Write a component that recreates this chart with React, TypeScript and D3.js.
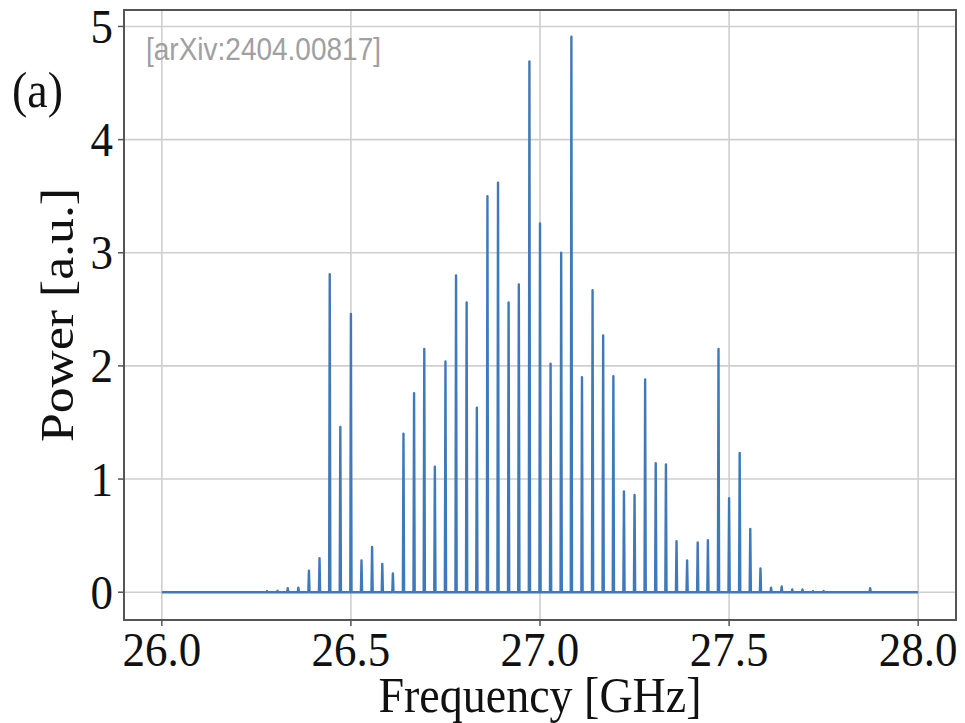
import React from "react";
import * as d3 from "d3";

// Comb line frequencies [GHz] and their power [a.u.]
const peakFreqs: number[] = [
  26.278, 26.306, 26.333, 26.361, 26.389, 26.417, 26.444, 26.472, 26.5, 26.528,
  26.556, 26.583, 26.611, 26.639, 26.667, 26.694, 26.722, 26.75, 26.778, 26.806,
  26.833, 26.861, 26.889, 26.917, 26.944, 26.972, 27.0, 27.028, 27.056, 27.083,
  27.111, 27.139, 27.167, 27.194, 27.222, 27.25, 27.278, 27.306, 27.333, 27.361,
  27.389, 27.417, 27.444, 27.472, 27.5, 27.528, 27.556, 27.583, 27.611, 27.639,
  27.667, 27.694, 27.722, 27.75, 27.873,
];
const peakPowers: number[] = [
  0.01, 0.012, 0.035, 0.04, 0.19, 0.3, 2.81, 1.46, 2.46, 0.28,
  0.4, 0.25, 0.165, 1.4, 1.76, 2.15, 1.11, 2.04, 2.8, 2.56,
  1.63, 3.5, 3.62, 2.56, 2.72, 4.69, 3.26, 2.02, 3.0, 4.91,
  1.9, 2.67, 2.27, 1.91, 0.89, 0.86, 1.88, 1.14, 1.13, 0.45,
  0.28, 0.44, 0.46, 2.15, 0.83, 1.23, 0.56, 0.21, 0.04, 0.05,
  0.025, 0.025, 0.01, 0.01, 0.035,
];
const freqRange: number[] = [26.0, 28.0];
const xTicks: number[] = [26.0, 26.5, 27.0, 27.5, 28.0];
const yTicks: number[] = [0, 1, 2, 3, 4, 5];

const W = 965;
const H = 723;
const L = 124, R = 956, T = 10, B = 620;
const SY = 1.1; // vertical stretch of the original figure
const serif = "'Liberation Serif', 'Times New Roman', serif";

export default function App() {
  const x = d3.scaleLinear().domain([25.9, 28.1]).range([L, R]);
  const y = d3.scaleLinear().domain([-0.2455, 5.1455]).range([B, T]);

  const hw = 0.0016;
  const pts: [number, number][] = [[freqRange[0], 0]];
  peakFreqs.forEach((f, i) => {
    pts.push([f - hw, 0]);
    pts.push([f, peakPowers[i]]);
    pts.push([f + hw, 0]);
  });
  pts.push([freqRange[1], 0]);
  const line = d3
    .line<[number, number]>()
    .x((d) => x(d[0]))
    .y((d) => y(d[1]));

  return (
    <svg
      width={W}
      height={H}
      style={{ position: "absolute", left: 0, top: 0, background: "#fff" }}
    >
      <rect x={0} y={0} width={W} height={H} fill="#fff" />
      {/* grid */}
      {xTicks.map((t) => (
        <line key={"gx" + t} x1={x(t)} x2={x(t)} y1={T} y2={B} stroke="#cfcfcf" strokeWidth={1.6} />
      ))}
      {yTicks.map((t) => (
        <line key={"gy" + t} x1={L} x2={R} y1={y(t)} y2={y(t)} stroke="#cfcfcf" strokeWidth={1.6} />
      ))}
      {/* data */}
      <path d={line(pts) || ""} fill="none" stroke="#3f79ba" strokeWidth={2.4} strokeLinejoin="round" />
      {/* frame */}
      <rect x={L} y={T} width={R - L} height={B - T} fill="none" stroke="#555" strokeWidth={2} />
      {/* ticks */}
      {xTicks.map((t) => (
        <g key={"tx" + t}>
          <line x1={x(t)} x2={x(t)} y1={B} y2={B + 6} stroke="#555" strokeWidth={1.5} />
          <text
            transform={`translate(${x(t)},666) scale(1,${SY})`}
            textAnchor="middle"
            fontFamily={serif}
            fontSize={45}
            fill="#111"
          >
            {t.toFixed(1)}
          </text>
        </g>
      ))}
      {yTicks.map((t) => (
        <g key={"ty" + t}>
          <line x1={L - 6} x2={L} y1={y(t)} y2={y(t)} stroke="#555" strokeWidth={1.5} />
          <text
            transform={`translate(${L - 11},${y(t) + 16.5}) scale(1,${SY})`}
            textAnchor="end"
            fontFamily={serif}
            fontSize={45}
            fill="#111"
          >
            {String(t)}
          </text>
        </g>
      ))}
      {/* axis labels */}
      <text
        transform={`translate(${(L + R) / 2},712) scale(1,${SY})`}
        textAnchor="middle"
        fontFamily={serif}
        fontSize={46}
        fill="#111"
      >
        Frequency [GHz]
      </text>
      <text
        transform={`translate(73,${(T + B) / 2}) rotate(-90) scale(${SY},1)`}
        textAnchor="middle"
        fontFamily={serif}
        fontSize={47}
        fill="#111"
      >
        Power [a.u.]
      </text>
      <text
        transform={`translate(12,107) scale(1,${SY})`}
        fontFamily={serif}
        fontSize={46}
        fill="#111"
      >
        (a)
      </text>
      <text
        transform={`translate(146,60) scale(1,${SY})`}
        fontFamily="'Liberation Sans', Arial, sans-serif"
        fontSize={28}
        fill="#a0a0a0"
      >
        [arXiv:2404.00817]
      </text>
    </svg>
  );
}
